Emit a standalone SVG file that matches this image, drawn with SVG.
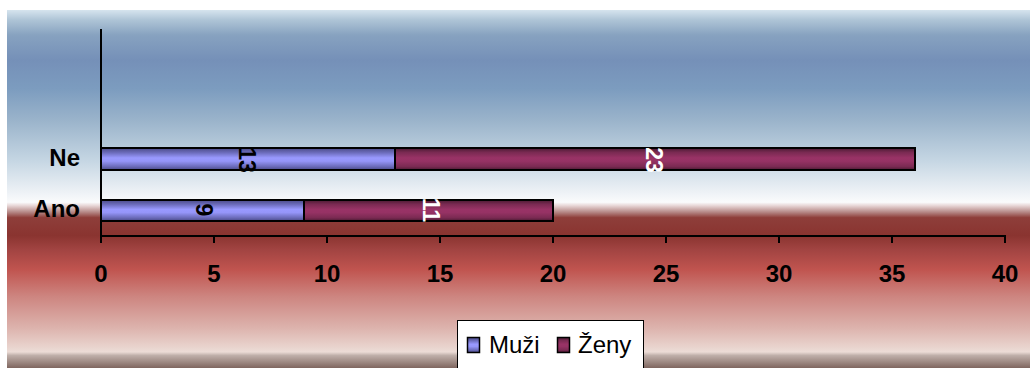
<svg xmlns="http://www.w3.org/2000/svg" width="1030" height="368" viewBox="0 0 1030 368">
  <defs>
    <linearGradient id="bg" gradientUnits="userSpaceOnUse" x1="0" y1="10" x2="0" y2="368">
      <stop offset="0" stop-color="#d6e4ee"/>
      <stop offset="0.028" stop-color="#aec4d6"/>
      <stop offset="0.07" stop-color="#87a2c0"/>
      <stop offset="0.14" stop-color="#7590b8"/>
      <stop offset="0.22" stop-color="#7c9cbf"/>
      <stop offset="0.31" stop-color="#9bb4cb"/>
      <stop offset="0.42" stop-color="#c5d6e3"/>
      <stop offset="0.51" stop-color="#eef2f6"/>
      <stop offset="0.537" stop-color="#fafbfc"/>
      <stop offset="0.547" stop-color="#e6d4d4"/>
      <stop offset="0.565" stop-color="#b48684"/>
      <stop offset="0.58" stop-color="#8e3e3a"/>
      <stop offset="0.63" stop-color="#8a3430"/>
      <stop offset="0.67" stop-color="#a24442"/>
      <stop offset="0.725" stop-color="#c0544f"/>
      <stop offset="0.8" stop-color="#cd8580"/>
      <stop offset="0.89" stop-color="#ddb4ae"/>
      <stop offset="0.955" stop-color="#ecdcd6"/>
      <stop offset="0.965" stop-color="#bfafa9"/>
      <stop offset="1" stop-color="#7f665f"/>
    </linearGradient>
    <linearGradient id="gMuzi" x1="0" y1="0" x2="0" y2="1">
      <stop offset="0" stop-color="#4a4a88"/>
      <stop offset="0.2" stop-color="#6a6ab8"/>
      <stop offset="0.45" stop-color="#9999ff"/>
      <stop offset="0.6" stop-color="#9595f8"/>
      <stop offset="0.85" stop-color="#6a6ab8"/>
      <stop offset="1" stop-color="#4a4a88"/>
    </linearGradient>
    <linearGradient id="gZeny" x1="0" y1="0" x2="0" y2="1">
      <stop offset="0" stop-color="#4a1a32"/>
      <stop offset="0.2" stop-color="#7a2a52"/>
      <stop offset="0.45" stop-color="#993366"/>
      <stop offset="0.6" stop-color="#963264"/>
      <stop offset="0.85" stop-color="#7a2a52"/>
      <stop offset="1" stop-color="#4a1a32"/>
    </linearGradient>
    <style>
      .bar { stroke: #000; stroke-width: 2; }
      .axis { stroke: #000; stroke-width: 2; fill: none; }
      .cat { font-family: "Liberation Sans", Arial, sans-serif; font-weight: bold; font-size: 24px; fill: #000; text-anchor: end; }
      .tick { font-family: "Liberation Sans", Arial, sans-serif; font-weight: bold; font-size: 24px; fill: #000; text-anchor: middle; }
      .val { font-family: "Liberation Sans", Arial, sans-serif; font-weight: bold; font-size: 23px; text-anchor: middle; dominant-baseline: central; }
      .leg { font-family: "Liberation Sans", Arial, sans-serif; font-size: 24px; fill: #000; }
    </style>
  </defs>

  <rect x="0" y="0" width="1030" height="368" fill="#ffffff"/>
  <rect x="7" y="10" width="1023" height="358" fill="url(#bg)"/>

  <g id="bars">
    <g id="bar-ne">
      <rect class="bar" x="101" y="148" width="294" height="22" fill="url(#gMuzi)"/>
      <rect class="bar" x="395" y="148" width="520" height="22" fill="url(#gZeny)"/>
      <text class="val" transform="translate(247,160) rotate(90)" fill="#000">13</text>
      <text class="val" transform="translate(654,160) rotate(90)" fill="#fff">23</text>
    </g>
    <g id="bar-ano">
      <rect class="bar" x="101" y="200" width="203" height="21" fill="url(#gMuzi)"/>
      <rect class="bar" x="304" y="200" width="249" height="21" fill="url(#gZeny)"/>
      <text class="val" transform="translate(204,210) rotate(90)" fill="#000">9</text>
      <text class="val" transform="translate(431,210) rotate(90)" fill="#fff">11</text>
    </g>
  </g>

  <g id="axes">
    <line class="axis" x1="101" y1="29" x2="101" y2="243"/>
    <line class="axis" x1="100" y1="236" x2="1006" y2="236"/>
    <path class="axis" d="M214,236V243 M327,236V243 M440,236V243 M553,236V243 M666,236V243 M779,236V243 M892,236V243 M1005,236V243"/>
  </g>

  <g id="labels">
    <text class="cat" x="80" y="166">Ne</text>
    <text class="cat" x="80" y="217">Ano</text>
    <text class="tick" x="101" y="282">0</text>
    <text class="tick" x="214" y="282">5</text>
    <text class="tick" x="327" y="282">10</text>
    <text class="tick" x="440" y="282">15</text>
    <text class="tick" x="553" y="282">20</text>
    <text class="tick" x="666" y="282">25</text>
    <text class="tick" x="779" y="282">30</text>
    <text class="tick" x="892" y="282">35</text>
    <text class="tick" x="1005" y="282">40</text>
  </g>

  <g id="legend">
    <rect x="457.5" y="320.5" width="186" height="50" fill="#ffffff" stroke="#000" stroke-width="1"/>
    <rect x="467.5" y="337.5" width="12" height="15" fill="url(#gMuzi)" stroke="#000" stroke-width="1.5"/>
    <text class="leg" x="489" y="353">Muži</text>
    <rect x="557.5" y="337.5" width="12" height="15" fill="url(#gZeny)" stroke="#000" stroke-width="1.5"/>
    <text class="leg" x="578" y="353">Ženy</text>
  </g>
</svg>
